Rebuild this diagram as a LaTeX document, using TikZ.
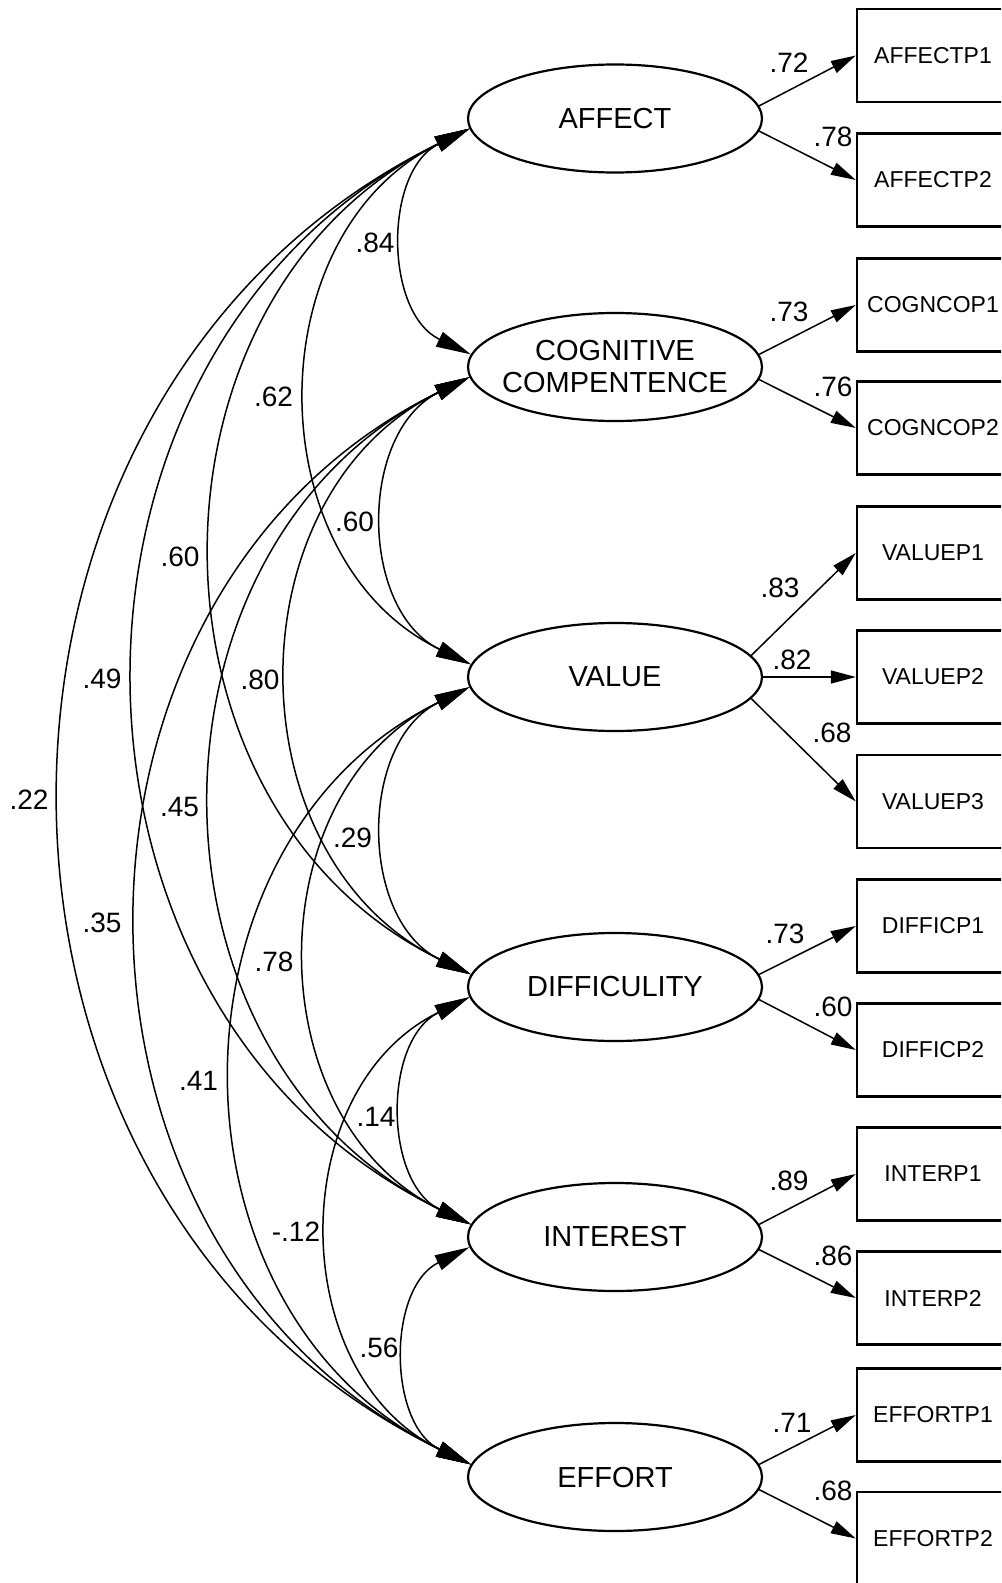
\documentclass[tikz,border=0pt]{standalone}
\usepackage{fontspec}
\setmainfont{Liberation Sans}
\usetikzlibrary{arrows.meta,shapes.geometric}
\begin{document}
\begin{tikzpicture}[x=0.25pt,y=-0.25pt,
  latent/.style={ellipse, draw, line width=0.55pt, minimum width=73.5pt, minimum height=27pt, inner sep=0pt},
  latlabel/.style={font=\fontsize{7.25}{8}\selectfont, align=center, inner sep=0pt},
  obs/.style={rectangle, draw, line width=0.6pt, minimum width=38pt, minimum height=23.25pt, inner sep=0pt, font=\fontsize{5.75}{6.75}\selectfont},
  load/.style={line width=0.375pt, -{Triangle[length=6.25pt,width=3.25pt]}},
  cov/.style={line width=0.375pt, {Triangle[length=8.75pt,width=4pt]}-{Triangle[length=8.75pt,width=4pt]}, bend right=64},
  numlab/.style={font=\fontsize{7}{8}\selectfont, inner sep=0pt}]
\path[fill=white] (0,0) rectangle (1001,1583);
\useasboundingbox (0,0) rectangle (1001,1583);
\clip (0,0) rectangle (1001,1583);

% latent variables
\node[latent, label={[latlabel]center:AFFECT}] (A) at (615,118.5) {};
\node[latent, label={[latlabel]center:{COGNITIVE\\COMPENTENCE}}] (C) at (615,367) {};
\node[latent, label={[latlabel]center:VALUE}] (V) at (615,677) {};
\node[latent, label={[latlabel]center:DIFFICULITY}] (D) at (615,987) {};
\node[latent, label={[latlabel]center:INTEREST}] (I) at (615,1237) {};
\node[latent, label={[latlabel]center:EFFORT}] (E) at (615,1477) {};

% observed variables
\node[obs] (ap1) at (933,55.5) {AFFECTP1};
\node[obs] (ap2) at (933,180) {AFFECTP2};
\node[obs] (cp1) at (933,305) {COGNCOP1};
\node[obs] (cp2) at (933,428) {COGNCOP2};
\node[obs] (vp1) at (933,553) {VALUEP1};
\node[obs] (vp2) at (933,677) {VALUEP2};
\node[obs] (vp3) at (933,801.5) {VALUEP3};
\node[obs] (dp1) at (933,926) {DIFFICP1};
\node[obs] (dp2) at (933,1050) {DIFFICP2};
\node[obs] (ip1) at (933,1174) {INTERP1};
\node[obs] (ip2) at (933,1298) {INTERP2};
\node[obs] (ep1) at (933,1415) {EFFORTP1};
\node[obs] (ep2) at (933,1538.5) {EFFORTP2};

% loadings
\draw[load] (A.5) -- (ap1.west);
\draw[load] (A.-5) -- (ap2.west);
\draw[load] (C.5) -- (cp1.west);
\draw[load] (C.-5) -- (cp2.west);
\draw[load] (V.9) -- (vp1.west);
\draw[load] (V.east) -- (vp2.west);
\draw[load] (V.-9) -- (vp3.west);
\draw[load] (D.5) -- (dp1.west);
\draw[load] (D.-5) -- (dp2.west);
\draw[load] (I.5) -- (ip1.west);
\draw[load] (I.-5) -- (ip2.west);
\draw[load] (E.5) -- (ep1.west);
\draw[load] (E.-5) -- (ep2.west);

% loading labels
\node[numlab] (la1) at (789,63) {.72};
\node[numlab] (la2) at (833,137) {.78};
\node[numlab] (lc1) at (789,312) {.73};
\node[numlab] (lc2) at (833,387) {.76};
\node[numlab] (lv1) at (780,588) {.83};
\node[numlab] (lv2) at (792,660) {.82};
\node[numlab] (lv3) at (832,733) {.68};
\node[numlab] (ld1) at (785,934) {.73};
\node[numlab] (ld2) at (833,1007) {.60};
\node[numlab] (li1) at (789,1181) {.89};
\node[numlab] (li2) at (833,1256) {.86};
\node[numlab] (le1) at (792,1423) {.71};
\node[numlab] (le2) at (833,1491) {.68};

% covariances
\draw[cov, looseness=1.087] (A.184) to (C.175);
\draw[cov, looseness=1.135] (A.184) to (V.175);
\draw[cov, looseness=1.148] (A.184) to (D.175);
\draw[cov, looseness=1.154] (A.184) to (I.175);
\draw[cov, looseness=1.157] (A.184) to (E.175);
\draw[cov, looseness=1.105] (C.184) to (V.175);
\draw[cov, looseness=1.139] (C.184) to (D.175);
\draw[cov, looseness=1.148] (C.184) to (I.175);
\draw[cov, looseness=1.153] (C.184) to (E.175);
\draw[cov, looseness=1.105] (V.184) to (D.175);
\draw[cov, looseness=1.135] (V.184) to (I.175);
\draw[cov, looseness=1.146] (V.184) to (E.175);
\draw[cov, looseness=1.088] (D.184) to (I.175);
\draw[cov, looseness=1.131] (D.184) to (E.175);
\draw[cov, looseness=1.084] (I.184) to (E.175);

% covariance labels
\node[numlab] (kac) at (375,243) {.84};
\node[numlab] (kav) at (273.5,396.5) {.62};
\node[numlab] (kcv) at (354.5,522) {.60};
\node[numlab] (kad) at (180,557) {.60};
\node[numlab] (kai) at (102,679) {.49};
\node[numlab] (kcd) at (260,680) {.80};
\node[numlab] (kae) at (29,800) {.22};
\node[numlab] (kci) at (179.5,807) {.45};
\node[numlab] (kvd) at (352.5,837.5) {.29};
\node[numlab] (kce) at (102,923) {.35};
\node[numlab] (kvi) at (274,962) {.78};
\node[numlab] (kve) at (198.5,1080.5) {.41};
\node[numlab] (kdi) at (376,1117) {.14};
\node[numlab] (kde) at (296,1232) {-.12};
\node[numlab] (kie) at (379,1348) {.56};
\end{tikzpicture}
\end{document}
